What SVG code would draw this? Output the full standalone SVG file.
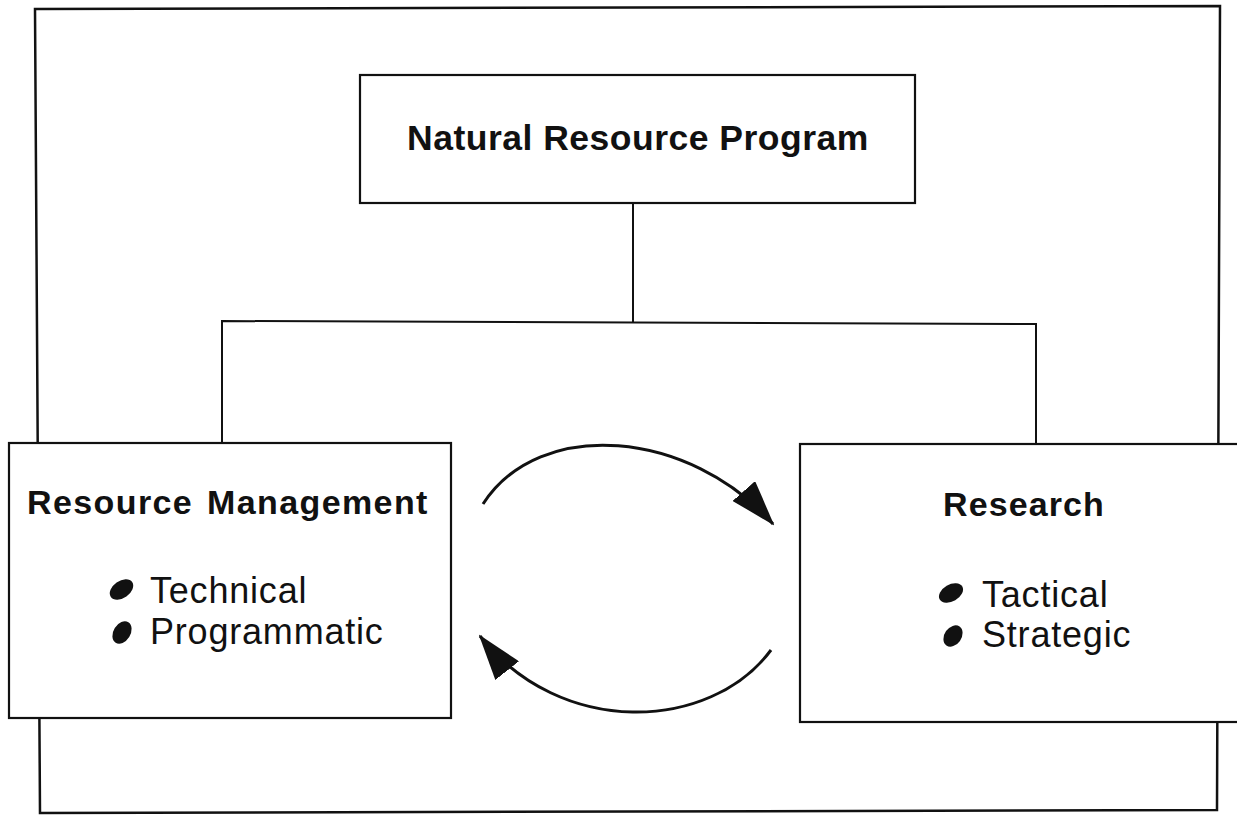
<svg xmlns="http://www.w3.org/2000/svg" width="1237" height="815" viewBox="0 0 1237 815">
  <style>
    .frame { fill: none; stroke: #111; stroke-width: 2.5; }
    .box { fill: #fff; stroke: #111; stroke-width: 2.2; }
    .link { fill: none; stroke: #111; stroke-width: 2; }
    .cycle { fill: none; stroke: #111; stroke-width: 3; }
    .head { font-family: "Liberation Sans", Arial, sans-serif; font-weight: bold; fill: #111; font-size: 34px; letter-spacing: 1.4px; word-spacing: 3px; }
    .item { font-family: "Liberation Sans", Arial, sans-serif; fill: #111; font-size: 36px; letter-spacing: 0.8px; }
    .dot { fill: #111; }
  </style>
  <defs>
    <marker id="arrow" viewBox="0 0 46 30" refX="44" refY="15" markerWidth="46" markerHeight="30" markerUnits="userSpaceOnUse" orient="auto">
      <path d="M0,0 L46,15 L0,30 Z" fill="#111"/>
    </marker>
  </defs>

  <rect width="1237" height="815" fill="#fff"/>

  <!-- outer border -->
  <polygon class="frame" points="35,9 1220,6 1217,810 40,813"/>

  <!-- hierarchy connectors and the exchange cycle -->
  <g id="connectors">
    <line class="link" x1="633" y1="203" x2="633" y2="322"/>
    <polyline class="link" points="222,442 222,321 1036,324 1036,445"/>
    <path class="cycle" d="M483,504 C540,416 690,430 773,524" marker-end="url(#arrow)"/>
    <path class="cycle" d="M771,650 C710,732 560,738 480,636" marker-end="url(#arrow)"/>
  </g>

  <g id="natural-resource-program">
    <rect class="box" x="360" y="75" width="555" height="128"/>
    <text class="head" x="407" y="150" style="font-size:35.5px; letter-spacing:0.5px; word-spacing:0">Natural Resource Program</text>
  </g>

  <g id="resource-management">
    <rect class="box" x="9" y="443" width="442" height="275"/>
    <text class="head" x="27" y="514">Resource Management</text>
    <ellipse class="dot" cx="121.5" cy="589.5" rx="13" ry="8.5" transform="rotate(-35 121.5 589.5)"/>
    <ellipse class="dot" cx="122" cy="632.5" rx="12" ry="8.5" transform="rotate(-58 122 632.5)"/>
    <text class="item" x="150" y="603">Technical</text>
    <text class="item" x="150" y="644">Programmatic</text>
  </g>

  <g id="research">
    <rect class="box" x="800" y="444" width="445" height="278"/>
    <text class="head" x="943" y="516" style="letter-spacing:1.1px">Research</text>
    <ellipse class="dot" cx="951" cy="593" rx="13" ry="8.5" transform="rotate(-30 951 593)"/>
    <ellipse class="dot" cx="953" cy="636" rx="11.5" ry="8.5" transform="rotate(-55 953 636)"/>
    <text class="item" x="982" y="607">Tactical</text>
    <text class="item" x="982" y="647">Strategic</text>
  </g>
</svg>
